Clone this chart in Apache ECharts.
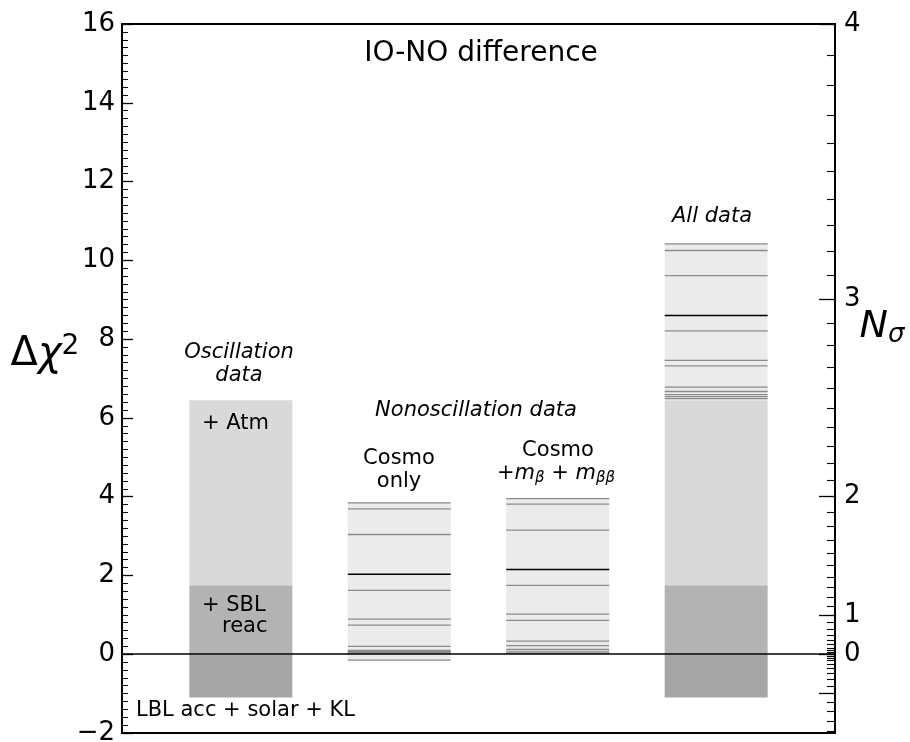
<!DOCTYPE html>
<html>
<head>
<meta charset="utf-8">
<script src="https://cdn.jsdelivr.net/npm/echarts@6/dist/echarts.min.js"></script>
<style>html,body{margin:0;padding:0;background:#fff}#c{width:910px;height:742px}</style>
</head>
<body>
<div id="c"></div>
<script>
// ---- data ----
const categories = ['Oscillation data', 'Cosmo only', 'Cosmo + mβ + mββ', 'All data'];
const categoryX = [1, 2, 3, 4];
// stacked shaded segments of each column
const segColumn = [0, 0, 0, 1, 2, 3, 3, 3, 3];
const segLow    = [-1.1, 0, 1.75, -0.17, 0, -1.1, 0, 1.75, 6.45];
const segHigh   = [0, 1.75, 6.45, 3.86, 3.97, 0, 1.75, 6.45, 10.43];
const segShade  = [0, 1, 2, 3, 3, 0, 1, 2, 3];
// horizontal lines (individual cosmological data sets)
const cosmoOnlyLines = [3.84, 3.69, 3.04, 1.62, 0.89, 0.74, 0.20, 0.10, 0.07, 0.04, 0.02, -0.15];
const cosmoOnlyCentral = 2.03;
const cosmoMassLines = [3.95, 3.81, 3.15, 1.75, 1.02, 0.86, 0.33, 0.22, 0.12, 0.06, 0.03];
const cosmoMassCentral = 2.15;
const allDataLines = [10.42, 10.25, 9.61, 8.21, 7.46, 7.32, 6.78, 6.67, 6.59, 6.54, 6.49];
const allDataCentral = 8.60;
// axis ticks
const leftTicks = [-2, 0, 2, 4, 6, 8, 10, 12, 14, 16];
const nSigmaMajor = [-1, 0, 1, 2, 3, 4];
const nSigmaLabels = [0, 1, 2, 3, 4];
const nSigmaMinorStep = 0.1, nSigmaMinorFrom = -1.4, nSigmaMinorTo = 4.0;

// ---- derived ----
const shades = ['#a6a6a6', '#b3b3b3', '#d9d9d9', '#ebebeb'];
const toChi = n => Math.sign(n) * n * n;
const toN = v => Math.round(Math.sign(v) * Math.sqrt(Math.abs(v)));
const minorN = [];
for (let k = Math.round(nSigmaMinorFrom / nSigmaMinorStep); k <= Math.round(nSigmaMinorTo / nSigmaMinorStep); k++) {
  if (k % 10 !== 0) minorN.push(k * nSigmaMinorStep);
}
const segData = segColumn.map((c, i) => [categoryX[c], segLow[i], segHigh[i], segShade[i]]);
const lineData = [];
cosmoOnlyLines.forEach(v => lineData.push([categoryX[1], v, 0]));
lineData.push([categoryX[1], cosmoOnlyCentral, 1]);
cosmoMassLines.forEach(v => lineData.push([categoryX[2], v, 0]));
lineData.push([categoryX[2], cosmoMassCentral, 1]);
allDataLines.forEach(v => lineData.push([categoryX[3], v, 0]));
lineData.push([categoryX[3], allDataCentral, 1]);

const BW = 0.65;
const FONT = 'DejaVu Sans';
const AF = '21px "DejaVu Sans"';
const AFI = 'italic 21px "DejaVu Sans"';
const chart = echarts.init(document.getElementById('c'), null, {renderer: 'canvas'});

const commonY = {type: 'value', min: -2, max: 16, splitLine: {show: false}};
function txt(x, y, text, font, align, lh) {
  return {type: 'text', x: x, y: y, z: 100, zlevel: 0,
    style: {text: text, font: font, fill: '#000', align: align || 'center', verticalAlign: 'middle', lineHeight: lh || 24}};
}
chart.setOption({
  animation: false,
  backgroundColor: '#fff',
  grid: {left: 122, right: 75, top: 24, bottom: 9, containLabel: false, outerBoundsMode: 'none',
    show: true, borderColor: '#000', borderWidth: 2, backgroundColor: 'transparent'},
  xAxis: {type: 'value', min: 0.25, max: 4.75, show: false},
  yAxis: [
    Object.assign({}, commonY, {
      position: 'left', interval: 2,
      axisLine: {show: true, lineStyle: {color: '#000', width: 2}},
      axisTick: {show: true, inside: true, length: 11, lineStyle: {color: '#000', width: 1.3}},
      minorTick: {show: true, splitNumber: 10, length: 6, lineStyle: {color: '#000', width: 1}},
      axisLabel: {show: true, color: '#000', fontSize: 26, fontFamily: FONT, margin: 7,
        formatter: v => (v < 0 ? '\u2212' + Math.abs(v) : String(v))}
    }),
    Object.assign({}, commonY, {
      position: 'right',
      axisLine: {show: false},
      axisTick: {show: true, inside: true, length: 16, lineStyle: {color: '#000', width: 1.3},
        customValues: nSigmaMajor.map(toChi)},
      axisLabel: {show: true, color: '#000', fontSize: 26, fontFamily: FONT, margin: 9,
        customValues: nSigmaLabels.map(toChi), formatter: v => String(toN(v))}
    }),
    Object.assign({}, commonY, {
      position: 'right',
      axisLine: {show: false},
      axisTick: {show: true, inside: true, length: 8, lineStyle: {color: '#000', width: 1.1},
        customValues: minorN.map(toChi)},
      axisLabel: {show: false}
    })
  ],
  series: [
    {
      type: 'custom', name: 'segments', data: segData, z: 2,
      renderItem: function (params, api) {
        const x = api.value(0), y0 = api.value(1), y1 = api.value(2);
        const p0 = api.coord([x - BW / 2, y1]);
        const p1 = api.coord([x + BW / 2, y0]);
        return {type: 'rect', shape: {x: p0[0], y: p0[1], width: p1[0] - p0[0], height: p1[1] - p0[1]},
          style: {fill: shades[api.value(3)]}};
      },
      markLine: {
        silent: true, symbol: ['none', 'none'], label: {show: false}, z: 10,
        lineStyle: {color: '#000', width: 1.5, type: 'solid'},
        data: [{yAxis: 0}]
      }
    },
    {
      type: 'custom', name: 'lines', data: lineData, z: 3,
      renderItem: function (params, api) {
        const x = api.value(0), y = api.value(1), c = api.value(2);
        const p0 = api.coord([x - BW / 2, y]);
        const p1 = api.coord([x + BW / 2, y]);
        return {type: 'line', shape: {x1: p0[0], y1: p0[1], x2: p1[0], y2: p1[1]},
          style: {stroke: c ? '#000' : '#8c8c8c', lineWidth: c ? 1.6 : 1.3}};
      }
    }
  ],
  graphic: [
    txt(481, 54, 'IO-NO difference', '28px "DejaVu Sans"'),
    txt(239, 364, 'Oscillation\ndata', AFI, 'center', 23),
    txt(202, 424, '+ Atm', AF, 'left'),
    txt(202, 606, '+ SBL', AF, 'left'),
    txt(222, 627, 'reac', AF, 'left'),
    txt(136, 711, 'LBL acc + solar + KL', AF, 'left'),
    txt(476, 411, 'Nonoscillation data', AFI),
    txt(399, 470, 'Cosmo\nonly', AF, 'center', 23),
    txt(558, 451, 'Cosmo', AF),
    {type: 'text', x: 556, y: 474, z: 100, style: {
      text: '{n|+}{m|m}{s|β}{n| + }{m|m}{s|ββ}', align: 'center', verticalAlign: 'middle',
      rich: {
        n: {font: AF, fill: '#000', verticalAlign: 'middle', lineHeight: 24},
        m: {font: AFI, fill: '#000', verticalAlign: 'middle', lineHeight: 24},
        s: {font: 'italic 15px "DejaVu Sans"', fill: '#000', verticalAlign: 'bottom', lineHeight: 24}
      }}},
    txt(712, 217, 'All data', AFI),
    {type: 'text', x: 45, y: 355, z: 100, style: {
      text: '{n|Δ}{i|χ}{p|2}', align: 'center', verticalAlign: 'middle',
      rich: {
        n: {font: '40px "DejaVu Sans"', fill: '#000', verticalAlign: 'middle', lineHeight: 44},
        i: {font: 'italic 40px "DejaVu Sans"', fill: '#000', verticalAlign: 'middle', lineHeight: 44},
        p: {font: '28px "DejaVu Sans"', fill: '#000', verticalAlign: 'top', lineHeight: 44}
      }}},
    {type: 'text', x: 882, y: 327, z: 100, style: {
      text: '{i|N}{s|σ}', align: 'center', verticalAlign: 'middle',
      rich: {
        i: {font: 'italic 38px "DejaVu Sans"', fill: '#000', verticalAlign: 'middle', lineHeight: 42},
        s: {font: 'italic 26px "DejaVu Sans"', fill: '#000', verticalAlign: 'bottom', lineHeight: 42}
      }}}
  ]
});
</script>
</body>
</html>
